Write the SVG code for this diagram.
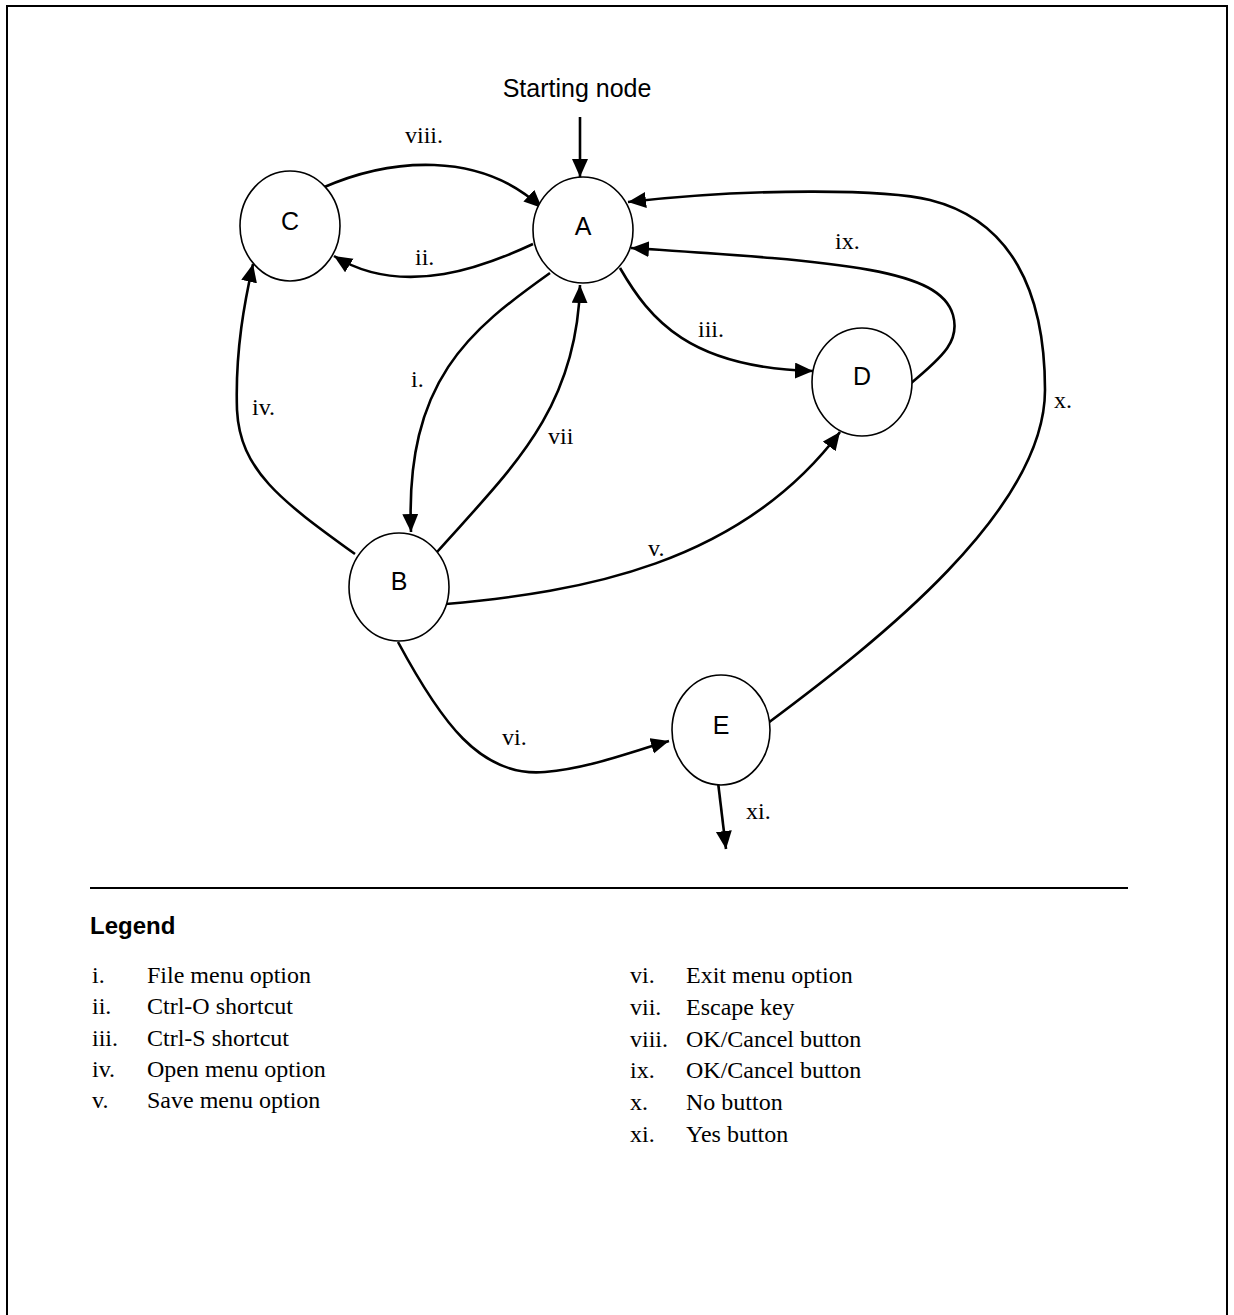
<svg xmlns="http://www.w3.org/2000/svg" width="1234" height="1315" viewBox="0 0 1234 1315">
<defs>
<style>
.frame{fill:none;stroke:#000;stroke-width:2}
.node{fill:#fff;stroke:#000;stroke-width:1.6}
.nl{font-family:"Liberation Sans",Arial,sans-serif;font-size:25px;text-anchor:middle;fill:#000}
.edge{fill:none;stroke:#000;stroke-width:2.6}
.el{font-family:"Liberation Serif","Times New Roman",serif;font-size:24px;fill:#000}
.lg{font-family:"Liberation Serif","Times New Roman",serif;font-size:24px;fill:#000}
.lh{font-family:"Liberation Sans",Arial,sans-serif;font-size:24px;font-weight:bold;fill:#000}
</style>
<marker id="arr" markerUnits="userSpaceOnUse" markerWidth="20" markerHeight="18" refX="18" refY="8" orient="auto">
<path d="M0,0 L18,8 L0,16 z" fill="#000"/>
</marker>
</defs>
<rect x="0" y="0" width="1234" height="1315" fill="#fff"/>
<path class="frame" d="M7,1320 L7,6 L1227,6 L1227,1320"/>
<text class="nl" x="577" y="97">Starting node</text>
<g id="connectors">
<path class="edge" d="M580,117 L580,177" marker-end="url(#arr)"/>
<path class="edge" d="M322,188 C390,158 480,150 542,208" marker-end="url(#arr)"/>
<path class="edge" d="M533,244 C490,264 405,300 334,256" marker-end="url(#arr)"/>
<path class="edge" d="M550,273 C470,330 405,380 411,532" marker-end="url(#arr)"/>
<path class="edge" d="M437,552 C510,470 577,410 580,285" marker-end="url(#arr)"/>
<path class="edge" d="M620,268 C650,320 690,368 813,371" marker-end="url(#arr)"/>
<path class="edge" d="M910,384 C945,355 960,340 953,315 C940,270 850,262 631,248" marker-end="url(#arr)"/>
<path class="edge" d="M768,723 C878,641 1045,510 1045,390 C1045,290 1010,220 930,200 C890,190 760,187 628,202" marker-end="url(#arr)"/>
<path class="edge" d="M355,554 C280,500 240,470 237,410 C235,350 245,300 253,264" marker-end="url(#arr)"/>
<path class="edge" d="M446,604 C580,592 740,565 840,432" marker-end="url(#arr)"/>
<path class="edge" d="M398,642 C440,720 480,778 545,772 C590,768 630,752 669,741" marker-end="url(#arr)"/>
<path class="edge" d="M718,782 L726,849" marker-end="url(#arr)"/>
<text class="el" x="405" y="143">viii.</text>
<text class="el" x="415" y="265">ii.</text>
<text class="el" x="835" y="249">ix.</text>
<text class="el" x="698" y="337">iii.</text>
<text class="el" x="1054" y="408">x.</text>
<text class="el" x="411" y="387">i.</text>
<text class="el" x="252" y="415">iv.</text>
<text class="el" x="548" y="444">vii</text>
<text class="el" x="648" y="556">v.</text>
<text class="el" x="502" y="745">vi.</text>
<text class="el" x="746" y="819">xi.</text>
</g>
<g id="node-A"><ellipse class="node" cx="583" cy="230" rx="50" ry="53"/><text class="nl" x="583" y="235">A</text></g>
<g id="node-C"><ellipse class="node" cx="290" cy="226" rx="50" ry="55"/><text class="nl" x="290" y="230">C</text></g>
<g id="node-D"><ellipse class="node" cx="862" cy="382" rx="50" ry="54"/><text class="nl" x="862" y="385">D</text></g>
<g id="node-B"><ellipse class="node" cx="399" cy="587" rx="50" ry="54"/><text class="nl" x="399" y="590">B</text></g>
<g id="node-E"><ellipse class="node" cx="721" cy="730" rx="49" ry="55"/><text class="nl" x="721" y="734">E</text></g>
<g id="legend">
<line x1="90" y1="888" x2="1128" y2="888" stroke="#000" stroke-width="2"/>
<text class="lh" x="90" y="934">Legend</text>
<text class="lg" x="92" y="983">i.</text><text class="lg" x="147" y="983">File menu option</text>
<text class="lg" x="92" y="1014">ii.</text><text class="lg" x="147" y="1014">Ctrl-O shortcut</text>
<text class="lg" x="92" y="1046">iii.</text><text class="lg" x="147" y="1046">Ctrl-S shortcut</text>
<text class="lg" x="92" y="1077">iv.</text><text class="lg" x="147" y="1077">Open menu option</text>
<text class="lg" x="92" y="1108">v.</text><text class="lg" x="147" y="1108">Save menu option</text>
<text class="lg" x="630" y="983">vi.</text><text class="lg" x="686" y="983">Exit menu option</text>
<text class="lg" x="630" y="1015">vii.</text><text class="lg" x="686" y="1015">Escape key</text>
<text class="lg" x="630" y="1047">viii.</text><text class="lg" x="686" y="1047">OK/Cancel button</text>
<text class="lg" x="630" y="1078">ix.</text><text class="lg" x="686" y="1078">OK/Cancel button</text>
<text class="lg" x="630" y="1110">x.</text><text class="lg" x="686" y="1110">No button</text>
<text class="lg" x="630" y="1142">xi.</text><text class="lg" x="686" y="1142">Yes button</text>
</g>
</svg>
